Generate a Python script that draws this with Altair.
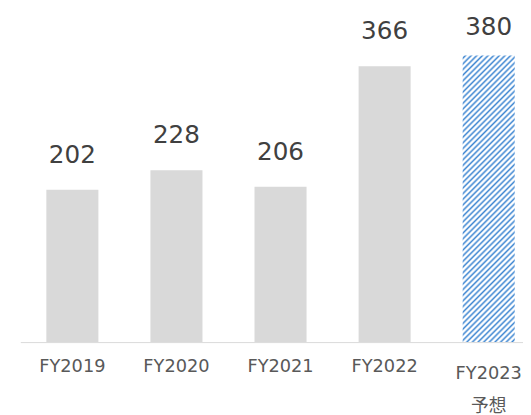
import altair as alt
import pandas as pd

years = ["FY2019", "FY2020", "FY2021", "FY2022", "FY2023"]
values = [202, 228, 206, 366, 380]
forecast = [False, False, False, False, True]

df = pd.DataFrame({"year": years, "value": values, "forecast": forecast})

# diagonal hatch for the forecast bar, built as a striped linear gradient
BLUE = "#3f87d2"
N_STRIPES = 60
stops = []
for k in range(N_STRIPES):
    stops += [
        alt.GradientStop(offset=k / N_STRIPES, color="#ffffff"),
        alt.GradientStop(offset=(k + 0.12) / N_STRIPES, color="#ffffff"),
        alt.GradientStop(offset=(k + 0.5) / N_STRIPES, color=BLUE),
        alt.GradientStop(offset=(k + 0.88) / N_STRIPES, color="#ffffff"),
    ]
stops.append(alt.GradientStop(offset=1, color="#ffffff"))
hatch = alt.LinearGradient(gradient="linear", stops=stops, x1=0, y1=0, x2=0.208, y2=1.144)

FONT = "DejaVu Sans, Noto Sans CJK JP"

x_enc = alt.X(
    "year:N",
    sort=years,
    scale=alt.Scale(range=[0, 528], paddingInner=0.5, paddingOuter=0.25),
    axis=alt.Axis(
        title=None,
        ticks=False,
        grid=False,
        domainColor="#d9d9d9",
        domainWidth=1,
        labelAngle=0,
        labelFont=FONT,
        labelFontSize=18,
        labelColor="#595959",
        labelOverlap=False,
        labelLineHeight=33,
        labelExpr="datum.value == 'FY2023' ? ['FY2023', '予想'] : datum.value",
        labelPadding={"condition": {"test": "datum.value == 'FY2023'", "value": 23}, "value": 16},
    ),
)
y_enc = alt.Y("value:Q", scale=alt.Scale(domain=[0, 400]), axis=None)

base = alt.Chart(df).encode(x=x_enc, y=y_enc)

actual = base.transform_filter("!datum.forecast")
fc = base.transform_filter("datum.forecast")

bars = actual.mark_bar(color="#d9d9d9")
fc_bar = fc.mark_bar(color=hatch)

lab = actual.mark_text(dy=-27.5, baseline="alphabetic", fontSize=25, font=FONT, color="#404040").encode(
    text="value:Q"
)
fc_lab = fc.mark_text(dy=-20.5, baseline="alphabetic", fontSize=25, font=FONT, color="#404040").encode(
    text="value:Q"
)

chart = (
    alt.layer(bars, fc_bar, lab, fc_lab)
    .properties(
        width=510,
        height=306,
        padding={"left": 12.5, "top": 30, "right": 0, "bottom": 71},
        autosize=alt.AutoSizeParams(type="none"),
    )
    .configure_view(stroke=None)
)

chart.save("out.html", embed_options={"renderer": "svg", "actions": False})
